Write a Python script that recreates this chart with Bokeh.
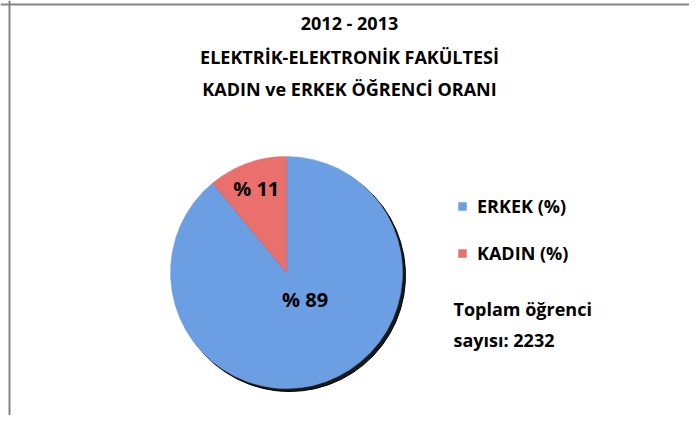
import numpy as np
from bokeh.plotting import figure
from bokeh.models import ColumnDataSource, Range1d, Span, Legend, LegendItem
from bokeh.core.properties import value
from bokeh.embed import file_html
from bokeh.resources import INLINE

# ---- data ----
title_lines = ["2012 - 2013", "ELEKTRİK-ELEKTRONİK FAKÜLTESİ", "KADIN ve ERKEK ÖĞRENCİ ORANI"]
categories = ["ERKEK (%)", "KADIN (%)"]
percentages = [89, 11]
total_students = 2232
note_lines = ["Toplam öğrenci", f"sayısı: {total_students}"]

# ---- layout / style ----
W, H = 689, 415
FONT = "Open Sans"
colors = ["#6c9ee3", "#e9706c"]
cx, cy, R = 286, 143, 116

frac = np.array(percentages) / sum(percentages)
ends = np.pi / 2 - 2 * np.pi * np.cumsum(frac)
starts = np.concatenate([[np.pi / 2], ends[:-1]])
mid = (starts + ends) / 2

src = ColumnDataSource(dict(cat=categories, val=percentages, start=starts, end=ends, color=colors))

p = figure(width=W, height=H, output_backend="svg", toolbar_location=None,
           x_range=Range1d(0, W), y_range=Range1d(0, H), min_border=0)
p.axis.visible = False
p.grid.visible = False
p.outline_line_color = None
p.background_fill_color = "white"
p.border_fill_color = "white"

# chart frame (only left and top edges visible, as in the cropped original)
p.add_layout(Span(location=9, dimension="height", line_color="#858585", line_width=2))
p.add_layout(Span(location=H - 4, dimension="width", line_color="#858585", line_width=2))

# shadow
p.wedge(x=cx + 3, y=cy - 3, radius=R, radius_units="screen", start_angle="start",
        end_angle="end", direction="clock", source=src, fill_color="black",
        line_color="black", fill_alpha=0.9)
# pie
r = p.wedge(x=cx, y=cy, radius=R, radius_units="screen", start_angle="start",
            end_angle="end", direction="clock", source=src, fill_color="color",
            line_color="color", line_width=0.5)

# slice labels
label_r = np.array([0.28, 0.77]) * R
label_ang = np.array([np.deg2rad(-55), mid[1]])
p.text(x=cx + label_r * np.cos(label_ang), y=cy + label_r * np.sin(label_ang),
       text=[f"% {v}" for v in percentages], text_font=value(FONT),
       text_font_style="bold", text_font_size="20px", text_align="center",
       text_baseline="middle", text_color="black")

# title
p.text(x=[349] * 3, y=[393, 359, 327], text=title_lines, text_font=value(FONT),
       text_font_style="bold", text_font_size="18px", text_align="center",
       text_baseline="middle", text_color="black")

# note
p.text(x=[453, 453], y=[107, 76], text=note_lines, text_font=value(FONT),
       text_font_style="bold", text_font_size="18px", text_align="left",
       text_baseline="middle", text_color="black")

legend = Legend(items=[LegendItem(label=c, renderers=[r], index=i) for i, c in enumerate(categories)],
                location=(457, 150), orientation="vertical",
                glyph_width=10, glyph_height=10, label_standoff=10, spacing=23,
                padding=0, margin=0, border_line_color=None, background_fill_alpha=0,
                label_text_font=FONT, label_text_font_style="bold",
                label_text_font_size="18px", label_text_color="black", label_height=20)
p.add_layout(legend, "center")

open("out.html", "w").write(file_html(p, INLINE))
